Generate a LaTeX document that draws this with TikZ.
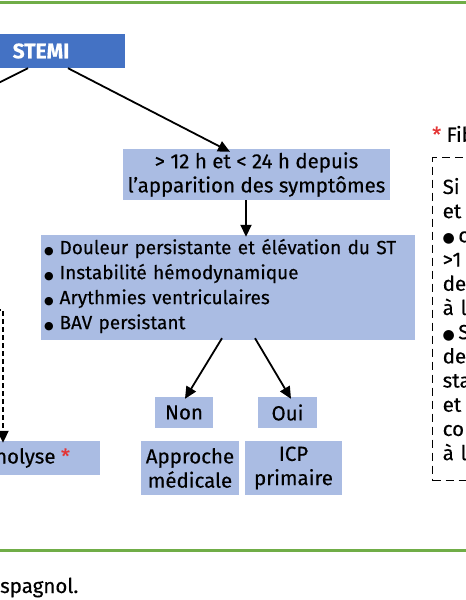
\documentclass[tikz,border=0pt]{standalone}
\usepackage{fontspec}
\setmainfont{Fira Sans}[FakeBold=0.35]
\newfontfamily\symfont{DejaVu Sans}
\usepackage{tikz}
\usetikzlibrary{arrows.meta,positioning,calc}
\usepackage{xcolor}
\definecolor{bleuF}{RGB}{68,114,196}
\definecolor{bleuC}{RGB}{170,188,227}
\definecolor{vertL}{RGB}{112,173,71}
\definecolor{rougeA}{RGB}{228,52,52}
\newcommand{\puce}{{\symfont\fontsize{11}{11}\selectfont ●}\hspace{6pt}}
\newcommand{\gpuce}{{\symfont\fontsize{14}{14}\selectfont ●}\,}

\begin{document}
\begin{tikzpicture}[x=1pt,y=-1pt,
    texte/.style={font=\fontsize{20.5}{24.2}\selectfont},
    boite/.style={texte, fill=bleuC, inner sep=0pt, align=center},
    fleche/.style={-{Triangle[length=12pt,width=11pt]}, line width=1.8pt}]
    \useasboundingbox (0,0) rectangle (466,600);
    \clip (0,0) rectangle (466,600);

    % filets verts
    \draw[vertL, line width=3pt] (0,2) -- (466,2);
    \draw[vertL, line width=3pt] (0,550) -- (466,550);

    % STEMI
    \node[fill=bleuF, text=white, font=\fontsize{21}{24}\selectfont\bfseries,
          minimum width=168pt, minimum height=34pt, inner sep=0pt] (stemi) at (41,51) {STEMI};

    % branche gauche (hors cadre)
    \coordinate (gauche) at (-60,112);
    \draw[fleche] ([xshift=-13pt]stemi.south) -- (gauche);

    % delai
    \node[boite, minimum width=267pt, minimum height=51pt] (delai) at (256.5,174.5)
        {> 12 h et < 24 h depuis\\l’apparition des symptômes};
    \draw[fleche] ([xshift=27pt]stemi.south) -- ([xshift=-26.5pt,yshift=-3pt]delai.north);

    % criteres
    \node[boite, align=left, text width=368pt, inner xsep=3pt, minimum height=105pt,
          font=\fontsize{19}{25}\selectfont] (signes) at (228,287.5)
        {\puce Douleur persistante et élévation du ST\\
         \puce Instabilité hémodynamique\\
         \puce Arythmies ventriculaires\\
         \puce BAV persistant\rule[-7pt]{0pt}{1pt}};
    \draw[fleche] ([xshift=-10.5pt]delai.south) -- ([xshift=-10.5pt,yshift=-2pt]delai.south |- signes.north);

    % Non / Oui
    \node[boite, minimum width=58pt, minimum height=31pt] (non) at (184,412.5) {Non};
    \node[boite, minimum width=59pt, minimum height=31pt] (oui) at (287.5,412.5) {Oui};
    \draw[fleche] ([xshift=-6pt,yshift=2pt]signes.south) -- ([xshift=1pt,yshift=-2pt]non.north);
    \draw[fleche] ([xshift=27pt,yshift=2pt]signes.south) -- ([xshift=3.5pt,yshift=-2pt]oui.north);

    % conduites
    \node[boite, minimum width=98pt, minimum height=54pt] (approche) at (190,468) {Approche\\médicale};
    \node[boite, minimum width=97pt, minimum height=54pt] (icp) at (293.5,468) {ICP\\primaire};

    % fibrinolyse (coupee a gauche)
    \node[boite, minimum width=135pt, minimum height=34pt] (fib) at (32.5,458)
        {nolyse \textcolor{rougeA}{*}};
    \coordinate (fibH) at (-20,310);
    \draw[fleche, line width=2pt, dash pattern=on 5pt off 3pt] (fibH) -| ([xshift=-29.5pt,yshift=-2pt]fib.north);

    % note de bas (coupee a droite)
    \node[texte, anchor=west, inner sep=0pt] (titre) at (432,134) {\textcolor{rougeA}{*} Fib};
    \node[draw, line width=1.4pt, dash pattern=on 8pt off 5pt, anchor=north west,
          minimum width=120pt, minimum height=323pt, text width=100pt, align=left,
          inner xsep=10pt, font=\fontsize{20.5}{24.2}\selectfont] (note) at (432,157)
        {Si\\et\\\gpuce c\\>1\\de\\à l\\\gpuce S\\de\\sta\\et\\co\\à l};

    % legende
    \node[texte, anchor=base west, inner sep=0pt] (legende) at (0,593) {spagnol.};
\end{tikzpicture}
\end{document}
